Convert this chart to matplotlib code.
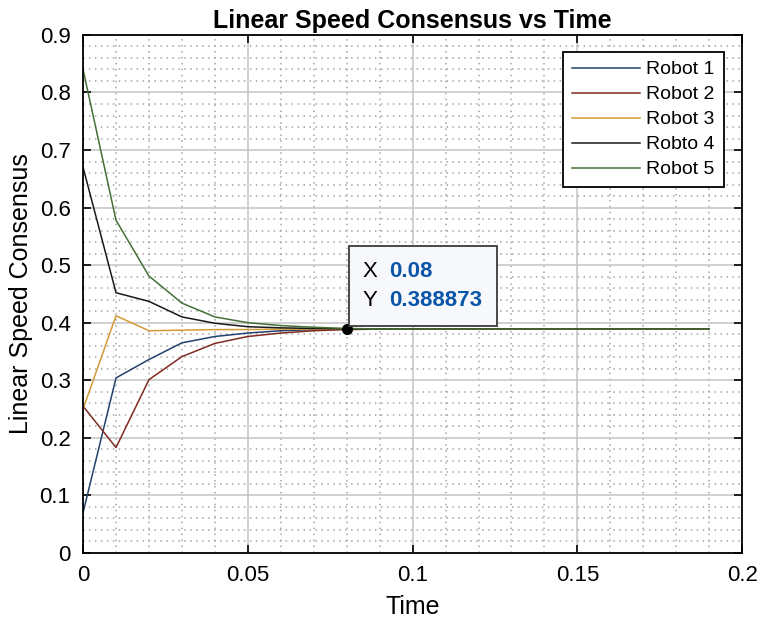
import numpy as np
import matplotlib.pyplot as plt
from matplotlib.patches import Rectangle
from matplotlib.transforms import IdentityTransform

plt.rcParams['font.family'] = ['Liberation Sans', 'DejaVu Sans']

# tiempo de muestreo y consenso de velocidad lineal por robot
time = [0.00, 0.01, 0.02, 0.03, 0.04, 0.05, 0.06, 0.07, 0.08, 0.09,
        0.10, 0.11, 0.12, 0.13, 0.14, 0.15, 0.16, 0.17, 0.18, 0.19]
robot1 = [0.070, 0.304, 0.336, 0.365, 0.376, 0.382, 0.386, 0.388, 0.3889, 0.3889,
          0.3889, 0.3889, 0.3889, 0.3889, 0.3889, 0.3889, 0.3889, 0.3889, 0.3889, 0.3889]
robot2 = [0.255, 0.183, 0.301, 0.341, 0.364, 0.376, 0.382, 0.386, 0.388, 0.3889,
          0.3889, 0.3889, 0.3889, 0.3889, 0.3889, 0.3889, 0.3889, 0.3889, 0.3889, 0.3889]
robot3 = [0.250, 0.412, 0.386, 0.387, 0.388, 0.388, 0.3889, 0.3889, 0.3889, 0.3889,
          0.3889, 0.3889, 0.3889, 0.3889, 0.3889, 0.3889, 0.3889, 0.3889, 0.3889, 0.3889]
robot4 = [0.670, 0.452, 0.437, 0.410, 0.399, 0.393, 0.391, 0.390, 0.389, 0.3889,
          0.3889, 0.3889, 0.3889, 0.3889, 0.3889, 0.3889, 0.3889, 0.3889, 0.3889, 0.3889]
robot5 = [0.840, 0.578, 0.481, 0.434, 0.410, 0.400, 0.395, 0.392, 0.390, 0.389,
          0.3889, 0.3889, 0.3889, 0.3889, 0.3889, 0.3889, 0.3889, 0.3889, 0.3889, 0.3889]
labels = ["Robot 1", "Robot 2", "Robot 3", "Robto 4", "Robot 5"]
colors = ["#24416b", "#7f2b22", "#d49a35", "#1a1a1a", "#466f35"]

xticks = [0, 0.05, 0.1, 0.15, 0.2]
xticklabels = ["0", "0.05", "0.1", "0.15", "0.2"]
yticks = [0, 0.1, 0.2, 0.3, 0.4, 0.5, 0.6, 0.7, 0.8, 0.9]
yticklabels = ["0", "0.1", "0.2", "0.3", "0.4", "0.5", "0.6", "0.7", "0.8", "0.9"]

tip_x = 0.08
tip_y = 0.388873

fig = plt.figure(figsize=(7.62, 6.24), dpi=100)
ax = fig.add_axes([0.109, 0.114, 0.865, 0.83])

for serie, lab, col in zip([robot1, robot2, robot3, robot4, robot5], labels, colors):
    ax.plot(time, serie, color=col, linewidth=1.1, label=lab)

ax.set_xlim(0, 0.2)
ax.set_ylim(0, 0.9)
ax.set_xticks(xticks)
ax.set_xticklabels(xticklabels)
ax.set_yticks(yticks)
ax.set_yticklabels(yticklabels)
ax.set_xticks(np.arange(0, 0.2001, 0.01), minor=True)
ax.set_yticks(np.arange(0, 0.9001, 0.02), minor=True)

# grilla estilo matlab
ax.grid(True, which='major', color='#c4c4c4', linewidth=1.1)
ax.grid(True, which='minor', color='#a4a4a4', linestyle=(0, (1, 2.9)), linewidth=1.1)
ax.set_axisbelow(True)
ax.tick_params(which='major', direction='in', length=6, width=1.2, top=True, right=True,
               labelsize=16, pad=9)
ax.tick_params(which='minor', length=0)
for s in ax.spines.values():
    s.set_linewidth(1.3)

ax.set_title("Linear Speed Consensus vs Time", fontsize=18, fontweight='bold', pad=5)
ax.set_xlabel("Time", fontsize=18, labelpad=6)
ax.set_ylabel("Linear Speed Consensus", fontsize=18, labelpad=5)

leg = ax.legend(loc='upper right', bbox_to_anchor=(0.972, 0.967), fontsize=14,
                fancybox=False, framealpha=1, edgecolor='black', handlelength=3.5,
                labelspacing=0.38, borderpad=0.45, handletextpad=0.35, borderaxespad=0)
leg.get_frame().set_linewidth(1.3)

# datatip
ax.plot([tip_x], [tip_y], 'o', color='black', markersize=7, zorder=5, clip_on=False)
fig.canvas.draw()
px, py = ax.transData.transform((tip_x, tip_y))
ax.add_patch(Rectangle((px + 2, py + 3), 148, 80, transform=IdentityTransform(),
                       fc='#f7f8fc', ec='#3a3a3a', lw=1.3, zorder=6, clip_on=False))
for label, val, dy in [("X", f"{tip_x:g}", 58), ("Y", f"{tip_y:g}", 29)]:
    ax.annotate(label, (tip_x, tip_y), xytext=(16 / 1.389, dy / 1.389),
                textcoords='offset points', fontsize=16, va='center', ha='left', zorder=7)
    ax.annotate(val, (tip_x, tip_y), xytext=(42 / 1.389, dy / 1.389),
                textcoords='offset points', fontsize=16, va='center', ha='left',
                color='#0b55a8', fontweight='bold', zorder=7)

fig.savefig("out.png", dpi=100)
